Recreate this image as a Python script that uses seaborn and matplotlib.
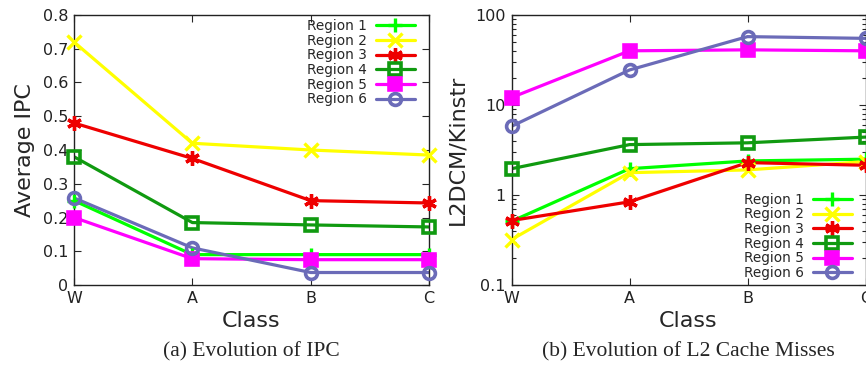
import numpy as np
import pandas as pd
import seaborn as sns
import matplotlib
matplotlib.use("Agg")
import matplotlib.pyplot as plt
from matplotlib.ticker import FixedLocator, FixedFormatter, LogLocator, NullFormatter
from matplotlib.lines import Line2D

classes = ["W", "A", "B", "C"]
regions = ["Region 1", "Region 2", "Region 3", "Region 4", "Region 5", "Region 6"]

ipc_r1 = [0.25, 0.09, 0.09, 0.09]
ipc_r2 = [0.72, 0.42, 0.40, 0.385]
ipc_r3 = [0.48, 0.375, 0.25, 0.243]
ipc_r4 = [0.38, 0.185, 0.178, 0.172]
ipc_r5 = [0.20, 0.078, 0.075, 0.075]
ipc_r6 = [0.258, 0.11, 0.037, 0.037]

l2_r1 = [0.51, 1.96, 2.39, 2.5]
l2_r2 = [0.32, 1.77, 1.9, 2.35]
l2_r3 = [0.52, 0.84, 2.29, 2.14]
l2_r4 = [1.96, 3.63, 3.8, 4.4]
l2_r5 = [12.1, 40.0, 41.0, 40.0]
l2_r6 = [5.8, 24.5, 57.5, 55.0]

ipc_series = [ipc_r1, ipc_r2, ipc_r3, ipc_r4, ipc_r5, ipc_r6]
l2_series = [l2_r1, l2_r2, l2_r3, l2_r4, l2_r5, l2_r6]

colors = ["#00ff00", "#ffff00", "#ee0000", "#109a10", "#ff00ff", "#6b6bb8"]
markers = ["+", "x", (6, 2, 0), "s", "s", "o"]
fills = [True, True, True, False, True, False]


def marker_style(mk, col, fl):
    big = mk in ("+", "x") or isinstance(mk, tuple)
    return dict(marker=mk,
                markersize=10.5 if big else 8.5,
                markeredgewidth=2.4 if big else 2.6,
                markerfacecolor=col if fl else "none",
                markeredgecolor=col)


def make_df(series):
    rows = []
    for reg, vals in zip(regions, series):
        for i, (c, v) in enumerate(zip(classes, vals)):
            rows.append({"Region": reg, "Class": c, "x": i, "value": v})
    return pd.DataFrame(rows)


sns.set_style("ticks")
plt.rcParams["font.family"] = ["DejaVu Sans"]

fig = plt.figure(figsize=(8.66, 3.68), dpi=100)
W, H = 866, 368
ax1 = fig.add_axes([74 / W, 1 - 285 / H, (429 - 74) / W, 270 / H])
ax2 = fig.add_axes([511.5 / W, 1 - 285 / H, (865.5 - 511.5) / W, 270 / H])


def draw(ax, series):
    df = make_df(series)
    sns.lineplot(data=df, x="x", y="value", hue="Region", palette=colors,
                 hue_order=regions, ax=ax, legend=False, linewidth=2.3,
                 estimator=None, sort=False)
    for reg, col, mk, fl in zip(regions, colors, markers, fills):
        sub = df[df["Region"] == reg]
        ax.plot(sub["x"], sub["value"], linestyle="none", color=col, zorder=3,
                clip_on=False, **marker_style(mk, col, fl))


draw(ax1, ipc_series)
draw(ax2, l2_series)

for ax in (ax1, ax2):
    ax.set_xlim(0, 3)
    ax.set_xticks(range(4))
    ax.set_xticklabels(classes)
    ax.set_xlabel("Class", fontsize=16, labelpad=4)
    ax.tick_params(direction="in", top=True, right=True, length=5, width=0.8,
                   labelsize=11.5, pad=4, labelcolor="#222222")
    ax.tick_params(which="minor", direction="in", top=False, right=True, left=True,
                   length=3, width=0.8)
    for s in ax.spines.values():
        s.set_visible(True)
        s.set_linewidth(1.0)
        s.set_color("#222222")

ax1.set_ylim(0, 0.8)
ax1.set_yticks(np.arange(0, 0.81, 0.1))
ax1.set_yticklabels(["0", "0.1", "0.2", "0.3", "0.4", "0.5", "0.6", "0.7", "0.8"])
ax1.set_ylabel("Average IPC", fontsize=16, labelpad=6)

ax2.set_yscale("log")
ax2.set_ylim(0.1, 100)
ax2.yaxis.set_major_locator(FixedLocator([0.1, 1, 10, 100]))
ax2.yaxis.set_major_formatter(FixedFormatter(["0.1", "1", "10", "100"]))
ax2.yaxis.set_minor_locator(LogLocator(base=10, subs=np.arange(2, 10)))
ax2.yaxis.set_minor_formatter(NullFormatter())
ax2.set_ylabel("L2DCM/Kinstr", fontsize=16, labelpad=6)

handles = []
for reg, col, mk, fl in zip(regions, colors, markers, fills):
    handles.append(Line2D([], [], color=col, linewidth=2.3, **marker_style(mk, col, fl)))

leg_kw = dict(frameon=False, markerfirst=False, fontsize=9.8, handlelength=2.9,
              handletextpad=0.6, labelspacing=0.05, borderpad=0, borderaxespad=0)
ax1.legend(handles, regions, loc="upper right",
           bbox_to_anchor=(415 / W, 1 - 19 / H), bbox_transform=fig.transFigure, **leg_kw)
ax2.legend(handles, regions, loc="lower right",
           bbox_to_anchor=(852 / W, 1 - 280 / H), bbox_transform=fig.transFigure, **leg_kw)

fig.text((74 + 429) / 2 / W, 1 - 352 / H, "(a) Evolution of IPC", ha="center", va="center",
         fontsize=15.5, family=["Liberation Serif"])
fig.text((511 + 866) / 2 / W, 1 - 352 / H, "(b) Evolution of L2 Cache Misses", ha="center",
         va="center", fontsize=15.5, family=["Liberation Serif"])

fig.savefig("out.png", dpi=100)
